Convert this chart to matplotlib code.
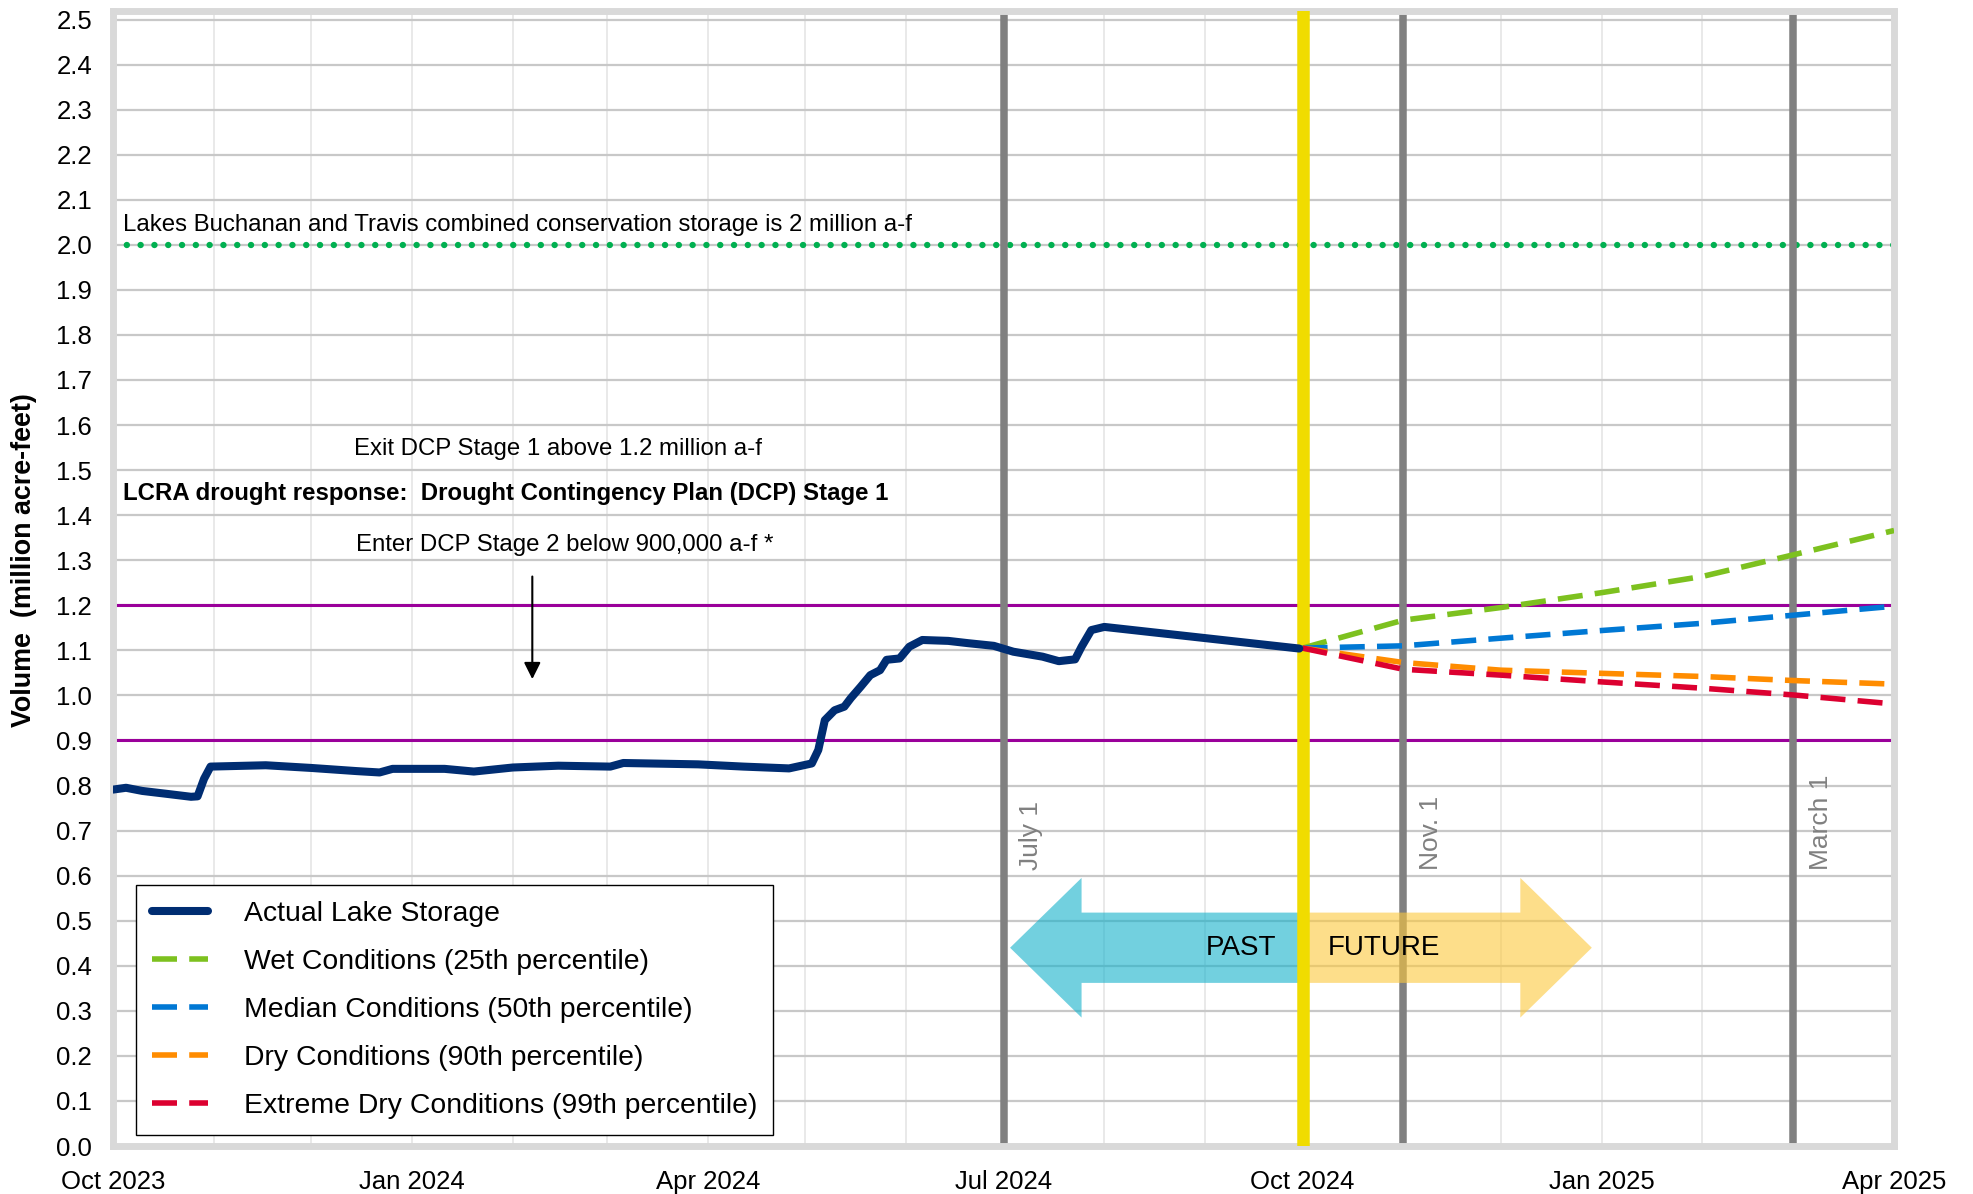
import matplotlib
matplotlib.use("Agg")
import matplotlib.pyplot as plt
import matplotlib.dates as mdates
from matplotlib.patches import Polygon
import pandas as pd

plt.rcParams['font.family'] = ['Liberation Sans', 'DejaVu Sans']

# combined storage of Lakes Buchanan and Travis, million acre-feet
storage_dates = pd.to_datetime([
    "2023-10-01", "2023-10-05", "2023-10-10", "2023-10-17", "2023-10-25",
    "2023-10-27", "2023-10-29", "2023-10-31", "2023-11-17", "2023-12-01",
    "2023-12-15", "2023-12-22", "2023-12-26", "2024-01-11", "2024-01-20",
    "2024-02-01", "2024-02-15", "2024-03-02", "2024-03-06", "2024-03-29",
    "2024-04-12", "2024-04-26", "2024-05-03", "2024-05-05", "2024-05-07",
    "2024-05-10", "2024-05-13", "2024-05-15", "2024-05-18", "2024-05-21",
    "2024-05-24", "2024-05-26", "2024-05-30", "2024-06-02", "2024-06-06",
    "2024-06-14", "2024-06-20", "2024-06-28", "2024-07-04", "2024-07-13",
    "2024-07-18", "2024-07-23", "2024-07-25", "2024-07-28", "2024-08-01",
    "2024-09-30",
])
storage = [
    0.791, 0.795, 0.788, 0.782, 0.775,
    0.776, 0.815, 0.842, 0.845, 0.839,
    0.832, 0.829, 0.837, 0.837, 0.831,
    0.840, 0.844, 0.842, 0.850, 0.847,
    0.842, 0.838, 0.849, 0.879, 0.945,
    0.967, 0.975, 0.994, 1.019, 1.045,
    1.056, 1.079, 1.082, 1.108, 1.123,
    1.121, 1.116, 1.110, 1.097, 1.086,
    1.076, 1.080, 1.108, 1.145, 1.152,
    1.104,
]

# projected storage by inflow scenario
proj_dates = pd.to_datetime(["2024-10-01", "2024-11-01", "2024-12-01", "2025-01-01",
                             "2025-02-01", "2025-03-01", "2025-04-01"])
wet = [1.105, 1.167, 1.195, 1.228, 1.264, 1.312, 1.366]
median = [1.105, 1.110, 1.127, 1.144, 1.160, 1.178, 1.198]
dry = [1.105, 1.073, 1.056, 1.049, 1.042, 1.033, 1.025]
extreme = [1.105, 1.058, 1.045, 1.030, 1.016, 1.001, 0.981]

scenario_labels = ["Wet Conditions (25th percentile)", "Median Conditions (50th percentile)",
                   "Dry Conditions (90th percentile)", "Extreme Dry Conditions (99th percentile)"]
scenario_colors = ["#7DC11F", "#0078D4", "#FF8C00", "#DC0030"]

conservation_storage = 2.0
exit_stage1 = 1.2
enter_stage2 = 0.9

today = pd.Timestamp("2024-10-01")
marker_dates = pd.to_datetime(["2024-07-01", "2024-11-01", "2025-03-01"])
marker_labels = ["July 1", "Nov. 1", "March 1"]

fig = plt.figure(figsize=(19.73, 11.94), dpi=100)
ax = fig.add_axes([0.0573, 0.0402, 0.9027, 0.951])

ax.set_xlim(pd.Timestamp("2023-10-01"), pd.Timestamp("2025-04-01"))
ax.set_ylim(0, 2.52)

# grid
ax.xaxis.set_major_locator(mdates.MonthLocator(bymonth=[1, 4, 7, 10]))
ax.xaxis.set_major_formatter(mdates.DateFormatter("%b %Y"))
ax.xaxis.set_minor_locator(mdates.MonthLocator())
ax.set_yticks([i / 10 for i in range(26)])
ax.yaxis.set_major_formatter(matplotlib.ticker.FormatStrFormatter("%.1f"))
ax.grid(which="both", axis="x", color="#E3E3E3", lw=1.1, zorder=0)
ax.grid(which="major", axis="y", color="#C8C8C8", lw=1.6, zorder=0)
ax.set_axisbelow(True)
ax.tick_params(which="both", length=0, labelsize=18.5)
ax.tick_params(axis="y", pad=15)
ax.tick_params(axis="x", pad=17)
for s in ax.spines.values():
    s.set_color("#D9D9D9")
    s.set_linewidth(5)

ax.set_ylabel("Volume  (million acre-feet)", fontsize=19.4, fontweight="bold")
ax.yaxis.set_label_coords(-0.0425, 0.516)

# reference levels
ax.axhline(conservation_storage, color="#00B050", lw=4.6,
           linestyle=(0, (0.01, 2.15)), dash_capstyle="round", zorder=2)
ax.axhline(exit_stage1, color="#9A009A", lw=2.2, zorder=2)
ax.axhline(enter_stage2, color="#9A009A", lw=2.2, zorder=2)

for d, lab in zip(marker_dates, marker_labels):
    ax.axvline(d, color="#808080", lw=5.4, zorder=2)
    ax.annotate(lab, xy=(mdates.date2num(d), 0.613), xytext=(20, 0),
                textcoords="offset points", rotation=90, ha="center", va="bottom",
                color="#808080", fontsize=19)

# past / future arrows
t0 = mdates.date2num(today)
yc, shaft, head = 0.44, 0.078, 0.155
p_tip = mdates.date2num(pd.Timestamp("2024-07-03"))
p_base = mdates.date2num(pd.Timestamp("2024-07-25"))
f_base = mdates.date2num(pd.Timestamp("2024-12-07"))
f_tip = mdates.date2num(pd.Timestamp("2024-12-29"))
past = Polygon([(t0, yc + shaft), (p_base, yc + shaft), (p_base, yc + head), (p_tip, yc),
                (p_base, yc - head), (p_base, yc - shaft), (t0, yc - shaft)],
               closed=True, facecolor="#14B1CB", edgecolor="none", alpha=0.6, zorder=3)
future = Polygon([(t0, yc + shaft), (f_base, yc + shaft), (f_base, yc + head), (f_tip, yc),
                  (f_base, yc - head), (f_base, yc - shaft), (t0, yc - shaft)],
                 closed=True, facecolor="#FDC83C", edgecolor="none", alpha=0.6, zorder=3)
ax.add_patch(past)
ax.add_patch(future)
ax.text(pd.Timestamp("2024-09-12"), yc, "PAST", ha="center", va="center", fontsize=20, zorder=4)
ax.text(pd.Timestamp("2024-10-26"), yc, "FUTURE", ha="center", va="center", fontsize=20, zorder=4)

ax.axvline(today, color="#F0DC00", lw=9, zorder=4)

# storage and projections
ax.plot(storage_dates, storage, color="#002D72", lw=5.8, solid_joinstyle="round",
        solid_capstyle="round", label="Actual Lake Storage", zorder=6)
for vals, lab, col in zip([wet, median, dry, extreme], scenario_labels, scenario_colors):
    ax.plot(proj_dates, vals, color=col, lw=4, linestyle=(0, (4.5, 2.2)),
            label=lab, zorder=5)

# annotations
ax.text(pd.Timestamp("2023-10-04"), 2.045, "Lakes Buchanan and Travis combined conservation storage is 2 million a-f",
        fontsize=17.3, va="center", ha="left")
ax.text(pd.Timestamp("2024-02-15"), 1.547, "Exit DCP Stage 1 above 1.2 million a-f",
        fontsize=17.3, va="center", ha="center")
ax.text(pd.Timestamp("2023-10-04"), 1.447, "LCRA drought response:  Drought Contingency Plan (DCP) Stage 1",
        fontsize=17.3, fontweight="bold", va="center", ha="left")
ax.text(pd.Timestamp("2024-02-17"), 1.334, "Enter DCP Stage 2 below 900,000 a-f *",
        fontsize=17.3, va="center", ha="center")
ax.annotate("", xy=(pd.Timestamp("2024-02-07"), 1.03), xytext=(pd.Timestamp("2024-02-07"), 1.27),
            arrowprops=dict(arrowstyle="-|>", color="black", lw=1.5, mutation_scale=25))

leg = ax.legend(loc="upper left", bbox_to_anchor=(0.0129, 0.2299), fontsize=20.4,
                frameon=True, fancybox=False, edgecolor="black", framealpha=1,
                borderaxespad=0, handlelength=2.0, handletextpad=1.25,
                labelspacing=0.78, borderpad=0.55)
leg.get_frame().set_linewidth(1.0)
leg.set_zorder(10)

fig.savefig("out.png", dpi=100)
